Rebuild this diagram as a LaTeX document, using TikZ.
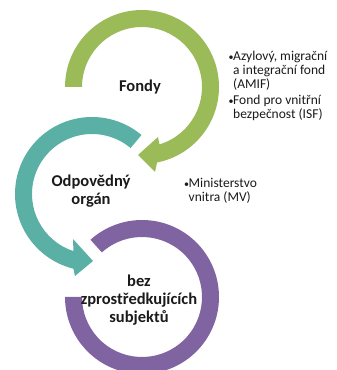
\documentclass[tikz,border=0pt]{standalone}
\usepackage{fontspec}
\setmainfont{Carlito}
\definecolor{cgreen}{HTML}{9BBB59}
\definecolor{cteal}{HTML}{5BB0A6}
\definecolor{cpurple}{HTML}{8064A2}
\definecolor{ctext}{HTML}{1A1A1A}
\begin{document}
\begin{tikzpicture}[x=1pt,y=1pt,
  title/.style={font=\fontsize{16.5}{18}\selectfont\bfseries, align=center, text=ctext, inner sep=0pt},
  bline/.style={font=\fontsize{13.5}{13}\selectfont, anchor=base west, inner sep=0pt, text=ctext},
  bdot/.style={font=\fontsize{10}{10}\selectfont, anchor=base west, inner sep=0pt, text=ctext}]
\useasboundingbox (0,0) rectangle (337,370);
\clip (0,0) rectangle (337,370);

% green arrow (Fondy)
\begin{scope}[shift={(142,283)}]
  \fill[cgreen] (180:77) arc[start angle=180, end angle=-78.7, radius=77]
    -- (13,-85) -- (-4,-68) -- (16,-50)
    -- (-73.1:60) arc[start angle=-73.1, end angle=180, radius=60] -- cycle;
\end{scope}

% teal arrow (Odpovedny organ)
\begin{scope}[shift={(92,176)}]
  \fill[cteal] (50:77) arc[start angle=50, end angle=256, radius=77]
    -- (-17,-82) -- (1,-67) -- (-19,-45)
    -- (252:60) arc[start angle=252, end angle=50, radius=60] -- cycle;
\end{scope}

% purple ring
\begin{scope}[shift={(142,73)}]
  \fill[cpurple] (180:77) arc[start angle=180, end angle=492, radius=77]
    -- (492:60) arc[start angle=492, end angle=180, radius=60] -- cycle;
\end{scope}

\node[title] (fondy) at (140,283) {Fondy};
\node[title] (organ) at (91,178.5) {Odpovědný\\orgán};
\node[title] (bez) at (139,70) {bez\\zprostředkujících\\subjektů};

\node[bdot] (d1) at (228.5,309) {\textbullet};
\node[bline] (l1) at (233,309) {Azylový, migrační};
\node[bline] (l2) at (233,295.5) {a integrační fond};
\node[bline] (l3) at (233,281) {(AMIF)};
\node[bdot] (d2) at (228.5,265) {\textbullet};
\node[bline] (l4) at (233,265) {Fond pro vnitřní};
\node[bline] (l5) at (233,251.5) {bezpečnost (ISF)};

\node[bdot] (d3) at (184,182) {\textbullet};
\node[bline] (m1) at (188.5,182) {Ministerstvo};
\node[bline] (m2) at (188.5,168) {vnitra (MV)};
\end{tikzpicture}
\end{document}
